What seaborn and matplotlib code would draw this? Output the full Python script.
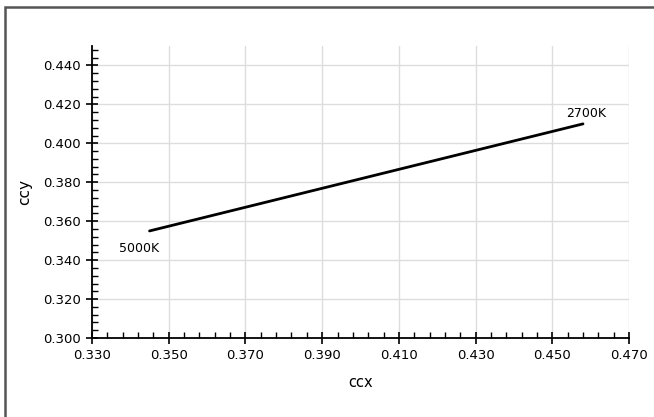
import numpy as np
import pandas as pd
import seaborn as sns
import matplotlib.pyplot as plt
from matplotlib.patches import Rectangle
from matplotlib.ticker import FixedLocator, FormatStrFormatter

# CCT tuning line (chromaticity coordinates)
cct_labels = ["5000K", "2700K"]
ccx = [0.345, 0.458]
ccy = [0.355, 0.410]

x_ticks = [0.330, 0.350, 0.370, 0.390, 0.410, 0.430, 0.450, 0.470]
y_ticks = [0.300, 0.320, 0.340, 0.360, 0.380, 0.400, 0.420, 0.440]

df = pd.DataFrame({"ccx": ccx, "ccy": ccy, "cct": cct_labels})

sns.set_theme(style="white")
plt.rcParams["font.family"] = ["DejaVu Sans"]
plt.rcParams["text.color"] = "black"
plt.rcParams["axes.labelcolor"] = "black"

fig = plt.figure(figsize=(6.54, 4.17), dpi=100)
ax = fig.add_axes([0.1407, 0.1894, 0.8211, 0.7003])

sns.lineplot(data=df, x="ccx", y="ccy", color="black", linewidth=2, ax=ax)

ax.set_xlim(0.33, 0.47)
ax.set_ylim(0.30, 0.45)
ax.xaxis.set_major_locator(FixedLocator(x_ticks))
ax.xaxis.set_minor_locator(FixedLocator(np.arange(0.330, 0.4701, 0.004)))
ax.yaxis.set_major_locator(FixedLocator(y_ticks))
ax.yaxis.set_minor_locator(FixedLocator(np.arange(0.300, 0.4501, 0.004)))
ax.xaxis.set_major_formatter(FormatStrFormatter("%.3f"))
ax.yaxis.set_major_formatter(FormatStrFormatter("%.3f"))

ax.grid(True, which="major", color="#dddddd", linewidth=1)
ax.set_axisbelow(True)
for s in ["top", "right"]:
    ax.spines[s].set_visible(False)
for s in ["left", "bottom"]:
    ax.spines[s].set_color("black")
    ax.spines[s].set_linewidth(1.3)

ax.tick_params(which="major", direction="inout", length=8, width=1.2,
               colors="black", labelsize=9.5, pad=4)
ax.tick_params(which="minor", direction="in", length=4, width=1, colors="black")
ax.tick_params(axis="both", which="both", left=True, bottom=True)

ax.set_xlabel("ccx", fontsize=10.5, labelpad=9)
ax.set_ylabel("ccy", fontsize=11, labelpad=8)

# end-point labels
ax.annotate(cct_labels[0], (ccx[0], ccy[0]), xytext=(-22, -15),
            textcoords="offset points", fontsize=9)
ax.annotate(cct_labels[1], (ccx[1], ccy[1]), xytext=(-12, 5),
            textcoords="offset points", fontsize=9)

# outer frame
fig.patches.append(Rectangle((4.5 / 654, -0.05), 1.1, 1 - 7 / 417 + 0.05,
                             transform=fig.transFigure, fill=False,
                             edgecolor="#555555", linewidth=1.8))

plt.savefig("out.png", dpi=100)
